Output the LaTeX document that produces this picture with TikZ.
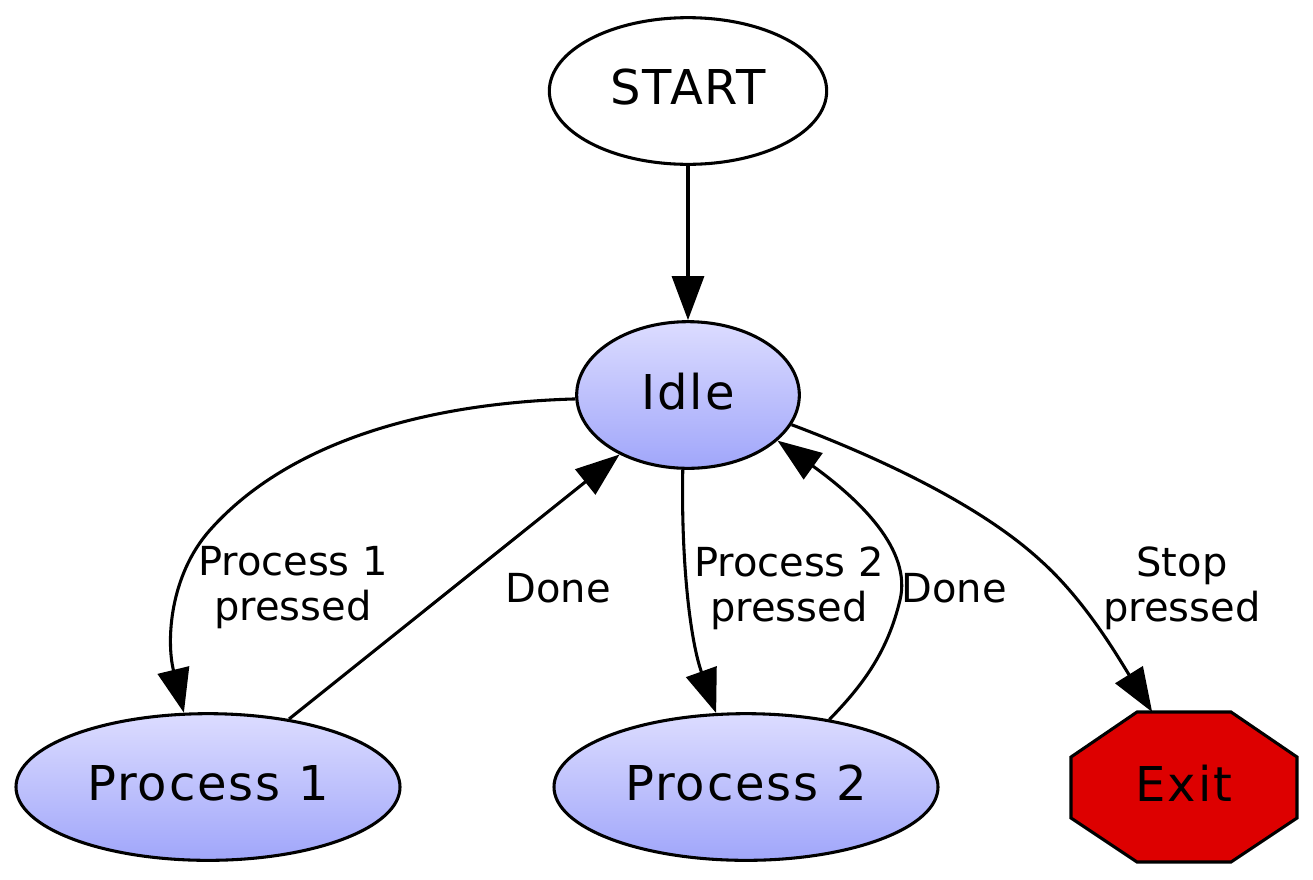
\documentclass[tikz,border=0pt]{standalone}
\usepackage{fontspec}
\setmainfont{DejaVu Sans}
\newfontfamily\nodefont[LetterSpace=4]{DejaVu Sans}
\usetikzlibrary{arrows.meta,backgrounds,shapes.geometric}
\definecolor{topblue}{RGB}{220,220,255}
\definecolor{botblue}{RGB}{160,166,250}
\definecolor{exitred}{RGB}{221,0,0}
\tikzset{
  base/.style={line width=2.3pt},
  ell/.style={base, draw, ellipse, inner sep=0pt, minimum height=110pt,
    text depth=6pt, font=\nodefont\fontsize{36}{42}\selectfont},
  grad/.style={ell, top color=topblue, bottom color=botblue},
  exitbox/.style={rectangle, inner sep=0pt, outer sep=0pt, minimum width=169.5pt,
    minimum height=112.5pt, text depth=6pt, font=\nodefont\fontsize{36}{42}\selectfont},
  octo/.style={base, draw=black, fill=exitred, line join=miter},
  conn/.style={base, -{Triangle[length=33pt,width=24pt]}},
  lbl/.style={align=center, inner sep=0pt, font=\fontsize{30}{33.75}\selectfont}
}
\begin{document}
\begin{tikzpicture}[x=0.75pt,y=-0.75pt]
\useasboundingbox (0,0) rectangle (1313,879);
\node[ell, fill=white, minimum width=208pt] (start) at (688,91) {START};
\node[grad, minimum width=167pt] (idle) at (688,395) {Idle};
\node[grad, minimum width=288pt] (p1) at (208,787) {Process 1};
\node[grad, minimum width=288pt] (p2) at (746,787) {Process 2};
\node[exitbox] (exit) at (1184,787) {Exit};
\begin{scope}[on background layer]
\draw[octo, shift={(exit.center)}] (-47,-75) -- (47,-75) -- (113,-30) -- (113,31)
  -- (47,75) -- (-47,75) -- (-113,31) -- (-113,-30) -- cycle;
\end{scope}

\draw[conn] (start.south) -- (idle.north);
\draw[conn] (idle.182) .. controls (430,403) and (290,440) .. (210,530)
  .. controls (170,575) and (166,640) .. (p1.108);
\draw[conn] (p1.40) -- (idle.221);
\draw[conn] (idle.266) .. controls (681,560) and (690,640) .. (p2.112);
\draw[conn] (p2.39) .. controls (865,683) and (888,650) .. (900,600)
  .. controls (912,550) and (860,500) .. (idle.333);
\draw[conn] (idle.344) .. controls (880,458) and (980,505) .. (1040,560)
  .. controls (1085,600) and (1118,657) .. (exit.113);

\node[lbl] (l1) at (293,588) {Process 1\\pressed};
\node[lbl] (l2) at (558,588) {Done};
\node[lbl] (l3) at (789,588) {Process 2\\pressed};
\node[lbl] (l4) at (954,588) {Done};
\node[lbl] (l5) at (1182,588) {Stop\\pressed};
\end{tikzpicture}
\end{document}
